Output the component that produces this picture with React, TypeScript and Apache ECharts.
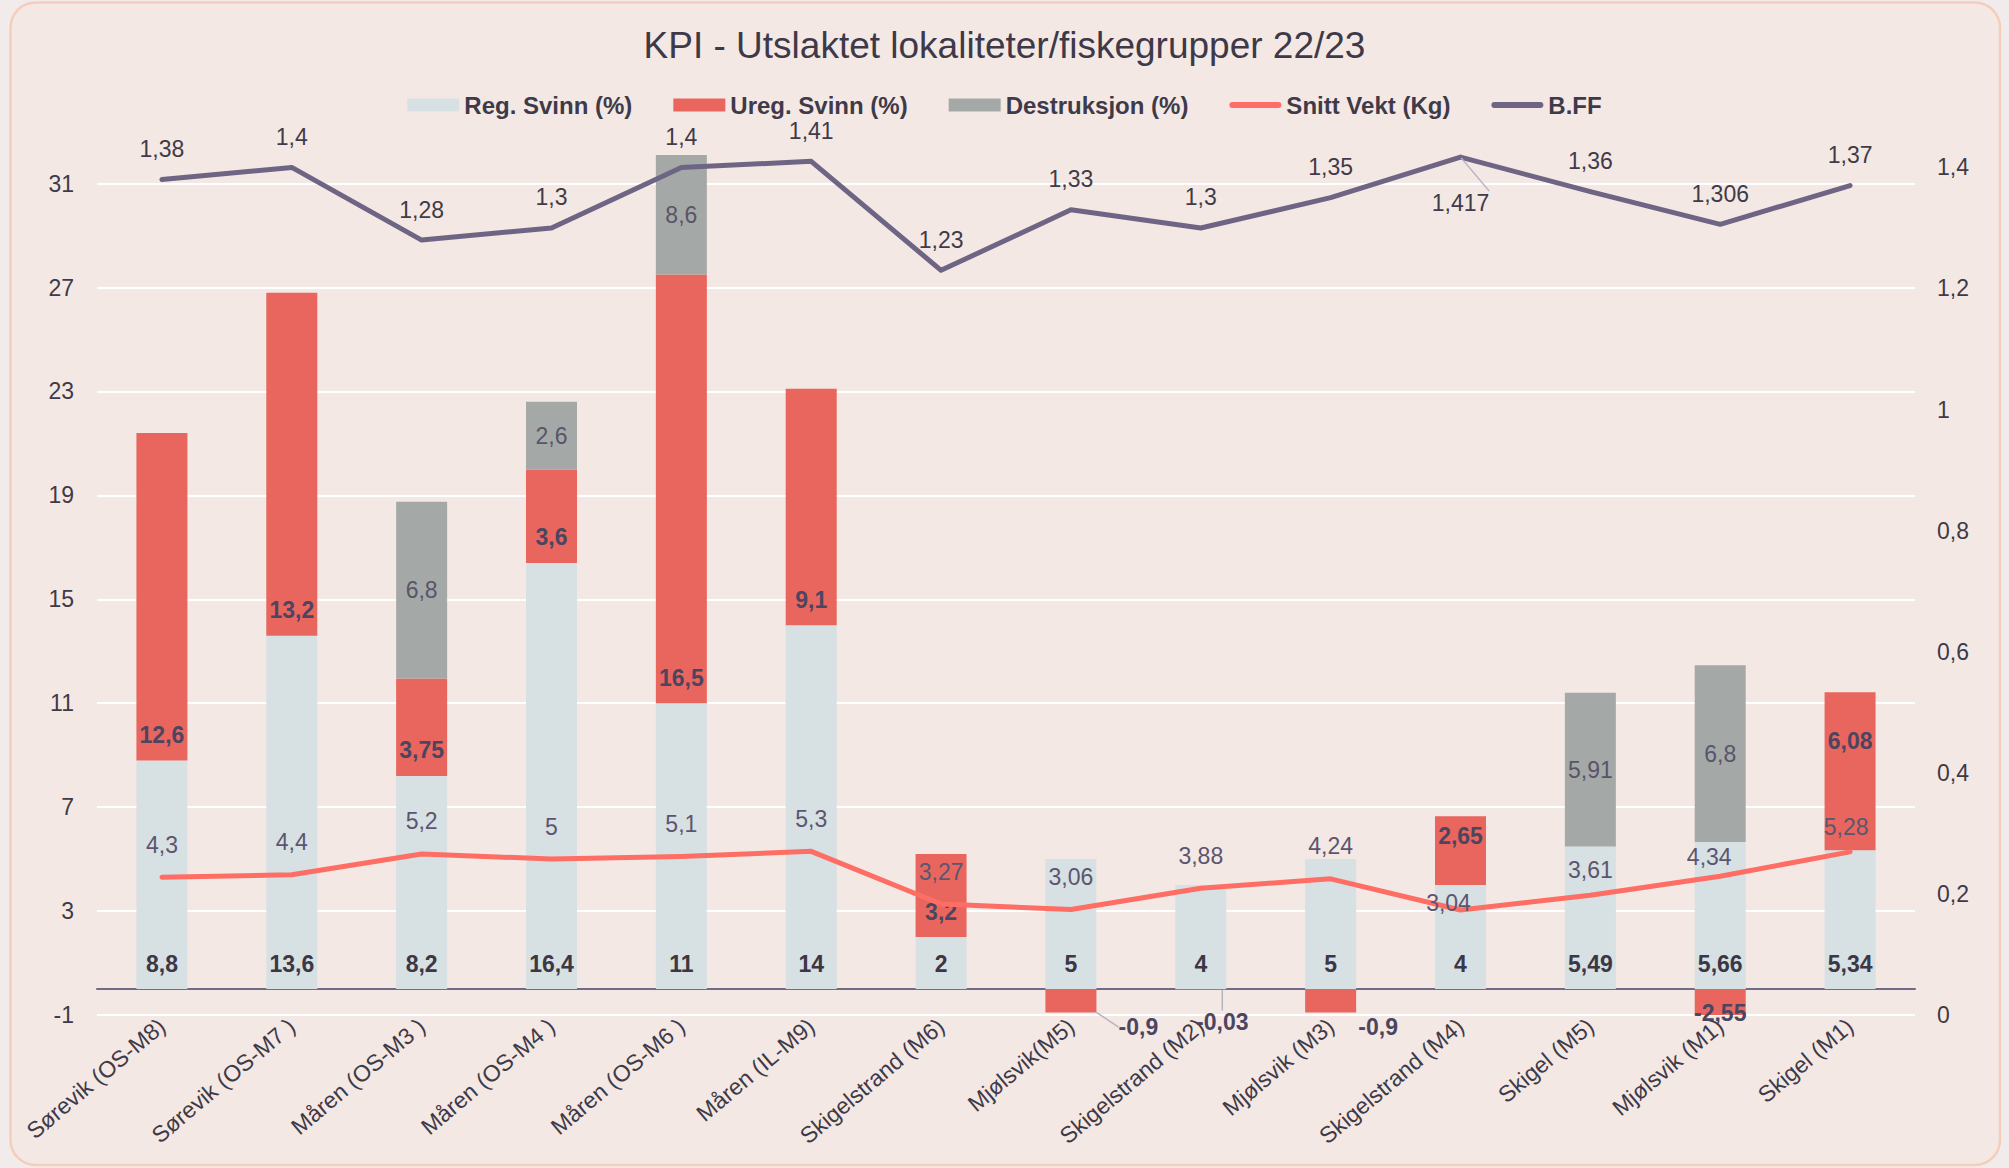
import React, { useEffect, useRef } from 'react';
import * as echarts from 'echarts';

const categories = [
  'Sørevik (OS-M8)',
  'Sørevik (OS-M7 )',
  'Måren (OS-M3 )',
  'Måren (OS-M4 )',
  'Måren (OS-M6 )',
  'Måren (IL-M9)',
  'Skigelstrand (M6)',
  'Mjølsvik(M5)',
  'Skigelstrand (M2)',
  'Mjølsvik (M3)',
  'Skigelstrand (M4)',
  'Skigel (M5)',
  'Mjølsvik (M1)',
  'Skigel (M1)',
];
const regSvinn = [8.8, 13.6, 8.2, 16.4, 11, 14, 2, 5, 4, 5, 4, 5.49, 5.66, 5.34];
const uregSvinn = [12.6, 13.2, 3.75, 3.6, 16.5, 9.1, 3.2, -0.9, -0.03, -0.9, 2.65, null, -2.55, 6.08];
const destruksjon = [null, null, 6.8, 2.6, 8.6, null, null, null, null, null, null, 5.91, 6.8, null];
const snittVekt = [4.3, 4.4, 5.2, 5, 5.1, 5.3, 3.27, 3.06, 3.88, 4.24, 3.04, 3.61, 4.34, 5.28];
const bff = [1.38, 1.4, 1.28, 1.3, 1.4, 1.41, 1.23, 1.33, 1.3, 1.35, 1.417, 1.36, 1.306, 1.37];

const leftTicks = [-1, 3, 7, 11, 15, 19, 23, 27, 31];
const rightTicks = [0, 0.2, 0.4, 0.6, 0.8, 1, 1.2, 1.4];
const leftMax = 32.1;
const rightMax = 1.4205;

const FONT = '"Liberation Sans", Arial, Helvetica, sans-serif';
const fmt = (v: number) => String(Math.round(v * 1000) / 1000).replace('.', ',');

const C = {
  reg: '#d7e0e3',
  ureg: '#e9665e',
  destr: '#a4a9a8',
  snitt: '#fe6e64',
  bff: '#6e6584',
  text: '#3e3a48',
  grid: '#ffffff',
};

const LINE_ICON = 'path://M3,0 L49,0 A3,3 0 0 1 49,6 L3,6 A3,3 0 0 1 3,0 Z';

const centered = { align: 'center', verticalAlign: 'middle' };
const uregLabelStyle: Record<number, any> = {
  7: { label: { position: [93, 38], ...centered }, labelLine: { show: true } },
  8: { label: { position: [47, 33], ...centered }, labelLine: { show: true } },
  9: { label: { position: [73, 38], ...centered } },
  10: { label: { position: ['50%', 20], ...centered } },
  12: { label: { position: ['50%', 24], ...centered } },
  13: { label: { position: ['50%', 49], ...centered } },
};
const snittLabelStyle: Record<number, any> = {
  10: { label: { position: [-11, -6], ...centered } },
  11: { label: { position: [1, -24], ...centered } },
  12: { label: { position: [-10, -18], ...centered } },
  13: { label: { position: [-3, -24], ...centered } },
};
const bffLabelStyle: Record<number, any> = {
  10: { label: { position: 'bottom', distance: 33 }, labelLine: { show: true } },
};

function withStyles(values: (number | null)[], styles: Record<number, any>) {
  return values.map((v, i) => (styles[i] && v != null ? { value: v, ...styles[i] } : v));
}

export default function App() {
  const ref = useRef<HTMLDivElement>(null);
  useEffect(() => {
    const chart = echarts.init(ref.current!, null, { renderer: 'svg' });
    const leftStep = leftTicks[1] - leftTicks[0];
    const rightStep = rightTicks[1] - rightTicks[0];
    const bottomPx = 153;
    const plotBottomY = 1168 - bottomPx;
    const grid1Top = 155;
    const unit = (plotBottomY - grid1Top) / (leftMax - leftTicks[0]);
    const grid2Top = plotBottomY - unit * (leftTicks[leftTicks.length - 1] - leftTicks[0]);

    const labelLineStyle = { lineStyle: { color: '#b7b3c2', width: 1.5 } };

    const option: any = {
      animation: false,
      backgroundColor: 'transparent',
      textStyle: { fontFamily: FONT },
      graphic: [
        {
          type: 'rect',
          z: -100,
          silent: true,
          shape: { x: 10.5, y: 2.5, width: 1989.5, height: 1162.5, r: 25 },
          style: { fill: '#f4e8e4', stroke: '#f5cdbb', lineWidth: 2.5 },
        },
      ],
      title: {
        text: 'KPI - Utslaktet lokaliteter/fiskegrupper 22/23',
        left: 'center',
        top: 22,
        textStyle: { fontSize: 37, fontWeight: 'normal', color: '#3e3949', fontFamily: FONT },
      },
      legend: {
        top: 88,
        left: 'center',
        itemWidth: 52,
        itemHeight: 13,
        itemGap: 41,
        symbolKeepAspect: true,
        textStyle: { fontSize: 24, fontWeight: 'bold', color: '#3f3a4a', fontFamily: FONT },
        data: [
          { name: 'Reg. Svinn (%)', icon: 'rect' },
          { name: 'Ureg. Svinn (%)', icon: 'rect' },
          { name: 'Destruksjon (%)', icon: 'rect' },
          { name: 'Snitt Vekt (Kg)', icon: LINE_ICON },
          { name: 'B.FF', icon: LINE_ICON },
        ],
      },
      grid: [
        { left: 97, right: 94, top: grid1Top, bottom: bottomPx, containLabel: false, outerBoundsMode: 'none' },
        { left: 97, right: 94, top: grid2Top, bottom: bottomPx, containLabel: false, outerBoundsMode: 'none' },
      ],
      xAxis: [
        {
          type: 'category',
          gridIndex: 0,
          data: categories,
          axisTick: { show: false },
          axisLine: { show: true, onZero: true, onZeroAxisIndex: 0, lineStyle: { color: '#726a86', width: 2 } },
          axisLabel: { interval: 0, rotate: 40, margin: 8, fontSize: 23, color: C.text, fontFamily: FONT },
          splitLine: { show: false },
        },
        { type: 'category', gridIndex: 1, data: categories, show: false },
      ],
      yAxis: [
        {
          type: 'value',
          gridIndex: 0,
          min: leftTicks[0],
          max: leftMax,
          axisLabel: { show: false },
          axisLine: { show: false },
          axisTick: { show: false },
          splitLine: { show: false },
        },
        {
          type: 'value',
          gridIndex: 0,
          position: 'right',
          min: rightTicks[0],
          max: rightMax,
          interval: rightStep,
          axisLine: { show: false },
          axisTick: { show: false },
          splitLine: { show: false },
          axisLabel: {
            margin: 22,
            fontSize: 23,
            color: C.text,
            fontFamily: FONT,
            showMaxLabel: false,
            formatter: (v: number) => {
              const k = v / rightStep;
              return Math.abs(k - Math.round(k)) < 1e-6 ? fmt(v) : '';
            },
          },
        },
        {
          type: 'value',
          gridIndex: 1,
          min: 0,
          max: leftTicks[leftTicks.length - 1] - leftTicks[0],
          interval: leftStep,
          axisLine: { show: false },
          axisTick: { show: false },
          splitLine: { show: true, lineStyle: { color: C.grid, width: 2 } },
          axisLabel: {
            margin: 23,
            fontSize: 23,
            color: C.text,
            fontFamily: FONT,
            formatter: (v: number) => fmt(v + leftTicks[0]),
          },
        },
      ],
      series: [
        {
          name: 'Reg. Svinn (%)',
          type: 'bar',
          stack: 'kpi',
          xAxisIndex: 0,
          yAxisIndex: 0,
          barWidth: 51,
          itemStyle: { color: C.reg },
          label: {
            show: true,
            position: 'insideBottom',
            distance: 14,
            fontSize: 23,
            fontWeight: 'bold',
            color: '#3b3745',
            fontFamily: FONT,
            formatter: (p: any) => fmt(p.value),
          },
          data: regSvinn,
          z: 2,
        },
        {
          name: 'Ureg. Svinn (%)',
          type: 'bar',
          stack: 'kpi',
          xAxisIndex: 0,
          yAxisIndex: 0,
          barWidth: 51,
          itemStyle: { color: C.ureg },
          label: {
            show: true,
            position: 'insideBottom',
            distance: 14,
            fontSize: 23,
            fontWeight: 'bold',
            color: '#4b4560',
            fontFamily: FONT,
            formatter: (p: any) => fmt(p.value),
          },
          labelLine: labelLineStyle,
          data: withStyles(uregSvinn, uregLabelStyle),
          z: 2,
        },
        {
          name: 'Destruksjon (%)',
          type: 'bar',
          stack: 'kpi',
          xAxisIndex: 0,
          yAxisIndex: 0,
          barWidth: 51,
          itemStyle: { color: C.destr },
          label: {
            show: true,
            position: 'inside',
            fontSize: 23,
            color: '#5a5468',
            fontFamily: FONT,
            formatter: (p: any) => fmt(p.value),
          },
          data: destruksjon,
          z: 2,
        },
        {
          name: 'Snitt Vekt (Kg)',
          type: 'line',
          xAxisIndex: 0,
          yAxisIndex: 0,
          symbol: 'circle',
          symbolSize: 2,
          itemStyle: { color: C.snitt },
          lineStyle: { color: C.snitt, width: 5, cap: 'round', join: 'round' },
          label: {
            show: true,
            position: 'top',
            distance: 20,
            fontSize: 23,
            color: '#5c5570',
            fontFamily: FONT,
            formatter: (p: any) => fmt(p.value),
          },
          data: withStyles(snittVekt, snittLabelStyle),
          z: 5,
        },
        {
          name: 'B.FF',
          type: 'line',
          xAxisIndex: 0,
          yAxisIndex: 1,
          symbol: 'circle',
          symbolSize: 2,
          itemStyle: { color: C.bff },
          lineStyle: { color: C.bff, width: 5, cap: 'round', join: 'round' },
          label: {
            show: true,
            position: 'top',
            distance: 18,
            fontSize: 23,
            color: '#3f3b48',
            fontFamily: FONT,
            formatter: (p: any) => fmt(p.value),
          },
          labelLine: labelLineStyle,
          data: withStyles(bff, bffLabelStyle),
          z: 6,
        },
      ],
    };
    chart.setOption(option);
    return () => chart.dispose();
  }, []);
  return (
    <div
      ref={ref}
      style={{ position: 'fixed', left: 0, top: 0, width: 2009, height: 1168, background: '#f1eceb' }}
    />
  );
}
